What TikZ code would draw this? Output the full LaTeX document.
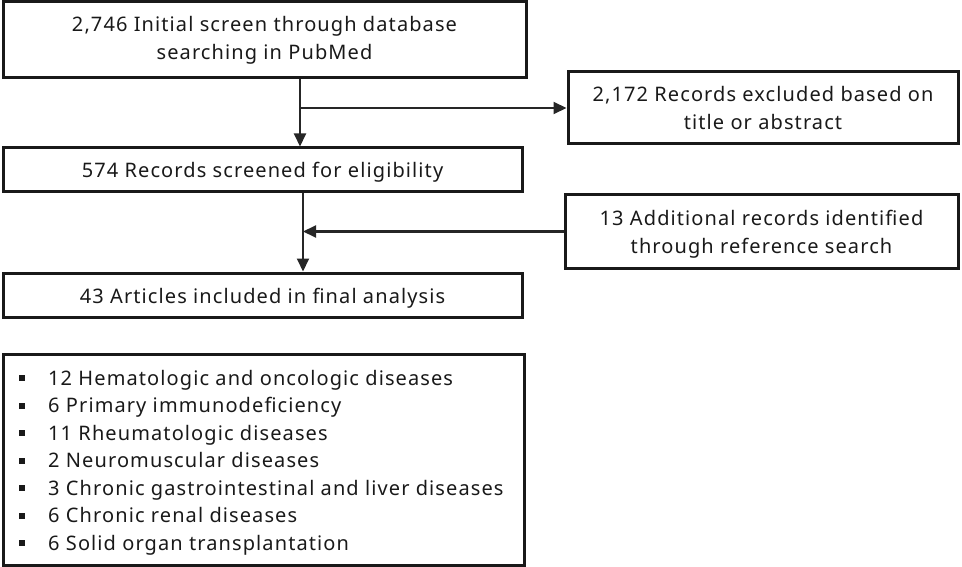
\documentclass[tikz,border=0pt]{standalone}
\usepackage{fontspec}
\setmainfont{Noto Sans}[LetterSpace=5.5]
\usetikzlibrary{arrows.meta}
\begin{document}
\begin{tikzpicture}[x=1pt,y=-1pt,
  every node/.style={font=\fontsize{20}{28}\selectfont, text=black!90},
  boxnode/.style={draw=black!90, line width=3pt, rectangle, inner sep=0pt, align=center},
  oneline/.style={text height=21pt, text depth=5pt},
  arr/.style={draw=black!85, line width=2pt, -{Triangle[length=13pt,width=12pt]}},
  itemtext/.style={anchor=west, inner sep=0pt, text height=14pt, text depth=5pt},
  bul/.style={fill=black!90, minimum size=6pt, inner sep=0pt, rectangle}]
\useasboundingbox (0,0) rectangle (962,567);
\node[boxnode, minimum width=523pt, minimum height=76pt] (b1) at (264.5,40)
  {2,746 Initial screen through database\\searching in PubMed};
\node[boxnode, minimum width=390pt, minimum height=72pt] (b2) at (763,108)
  {2,172 Records excluded based on\\title or abstract};
\node[boxnode, oneline, minimum width=519pt, minimum height=44pt] (b3) at (262.5,170)
  {574 Records screened for eligibility};
\node[boxnode, text height=49pt, text depth=5pt, minimum width=393pt, minimum height=73pt] (b4) at (761.5,231.5)
  {13 Additional records identified\\through reference search};
\node[boxnode, oneline, minimum width=519pt, minimum height=44pt] (b5) at (262.5,295)
  {43 Articles included in final analysis};
\node[boxnode, minimum width=521pt, minimum height=211pt] (lst) at (263.5,459.5) {};
\coordinate (c1) at (300,0);
\coordinate (c2) at (303,0);
\draw[arr] (b1.south -| c1) -- (b3.north -| c1);
\draw[arr] (c1 |- b2.west) -- (b2.west);
\draw[arr] (b4.west) -- (c2 |- b4.west);
\draw[arr] (b3.south -| c2) -- (b5.north -| c2);
\foreach \i/\y/\t in {1/378/12 Hematologic and oncologic diseases,
  2/405.5/6 Primary immunodeficiency,
  3/433/11 Rheumatologic diseases,
  4/460.5/2 Neuromuscular diseases,
  5/488/3 Chronic gastrointestinal and liver diseases,
  6/515.5/6 Chronic renal diseases,
  7/543/6 Solid organ transplantation}{
  \node[bul] (p\i) at (22,\y) {};
  \node[itemtext] (t\i) at (48,\y+2.5) {\t};
}
\end{tikzpicture}
\end{document}
